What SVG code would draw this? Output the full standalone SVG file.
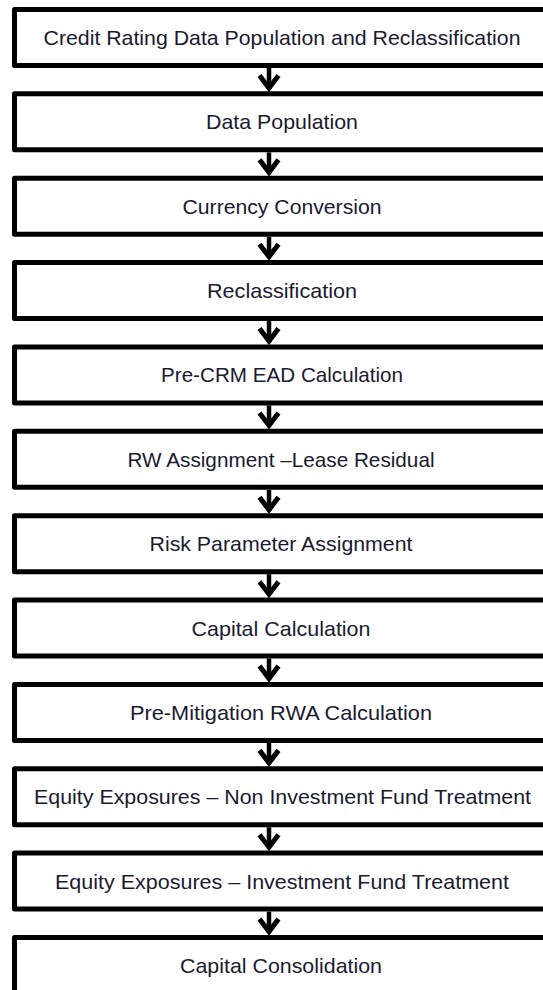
<svg xmlns="http://www.w3.org/2000/svg" width="543" height="990" viewBox="0 0 543 990">
<style>
.box{fill:#fff;stroke:#000;stroke-width:5;stroke-linejoin:round}
.lbl{font-family:"Liberation Sans",Arial,sans-serif;font-size:21px;fill:#1a1a30;text-anchor:middle}
.stem{stroke:#000;stroke-width:4.5;fill:none}
.head{stroke:#000;stroke-width:5;fill:none;stroke-linejoin:miter;stroke-linecap:butt}
</style>
<rect width="543" height="990" fill="#fff"/>
<g id="connectors">
<g transform="translate(0,0)"><line class="stem" x1="269" y1="68" x2="269" y2="89"/><polyline class="head" points="259.5,75.5 269,88 278.5,75.5"/></g>
<g transform="translate(0,84.36)"><line class="stem" x1="269" y1="68" x2="269" y2="89"/><polyline class="head" points="259.5,75.5 269,88 278.5,75.5"/></g>
<g transform="translate(0,168.72)"><line class="stem" x1="269" y1="68" x2="269" y2="89"/><polyline class="head" points="259.5,75.5 269,88 278.5,75.5"/></g>
<g transform="translate(0,253.08)"><line class="stem" x1="269" y1="68" x2="269" y2="89"/><polyline class="head" points="259.5,75.5 269,88 278.5,75.5"/></g>
<g transform="translate(0,337.44)"><line class="stem" x1="269" y1="68" x2="269" y2="89"/><polyline class="head" points="259.5,75.5 269,88 278.5,75.5"/></g>
<g transform="translate(0,421.8)"><line class="stem" x1="269" y1="68" x2="269" y2="89"/><polyline class="head" points="259.5,75.5 269,88 278.5,75.5"/></g>
<g transform="translate(0,506.16)"><line class="stem" x1="269" y1="68" x2="269" y2="89"/><polyline class="head" points="259.5,75.5 269,88 278.5,75.5"/></g>
<g transform="translate(0,590.52)"><line class="stem" x1="269" y1="68" x2="269" y2="89"/><polyline class="head" points="259.5,75.5 269,88 278.5,75.5"/></g>
<g transform="translate(0,674.88)"><line class="stem" x1="269" y1="68" x2="269" y2="89"/><polyline class="head" points="259.5,75.5 269,88 278.5,75.5"/></g>
<g transform="translate(0,759.24)"><line class="stem" x1="269" y1="68" x2="269" y2="89"/><polyline class="head" points="259.5,75.5 269,88 278.5,75.5"/></g>
<g transform="translate(0,843.6)"><line class="stem" x1="269" y1="68" x2="269" y2="89"/><polyline class="head" points="259.5,75.5 269,88 278.5,75.5"/></g>
</g>
<g id="n1"><rect class="box" x="14.5" y="9.5" width="536" height="56"/><text class="lbl" x="282" y="45" textLength="477" lengthAdjust="spacingAndGlyphs">Credit Rating Data Population and Reclassification</text></g>
<g id="n2"><rect class="box" x="14.5" y="93.86" width="536" height="56"/><text class="lbl" x="282" y="129.36" textLength="152" lengthAdjust="spacingAndGlyphs">Data Population</text></g>
<g id="n3"><rect class="box" x="14.5" y="178.22" width="536" height="56"/><text class="lbl" x="282" y="213.72" textLength="199" lengthAdjust="spacingAndGlyphs">Currency Conversion</text></g>
<g id="n4"><rect class="box" x="14.5" y="262.58" width="536" height="56"/><text class="lbl" x="282" y="298.08" textLength="150" lengthAdjust="spacingAndGlyphs">Reclassification</text></g>
<g id="n5"><rect class="box" x="14.5" y="346.94" width="536" height="56"/><text class="lbl" x="282" y="382.44" textLength="242" lengthAdjust="spacingAndGlyphs">Pre-CRM EAD Calculation</text></g>
<g id="n6"><rect class="box" x="14.5" y="431.3" width="536" height="56"/><text class="lbl" x="281" y="466.8" textLength="307" lengthAdjust="spacingAndGlyphs">RW Assignment –Lease Residual</text></g>
<g id="n7"><rect class="box" x="14.5" y="515.66" width="536" height="56"/><text class="lbl" x="281" y="551.16" textLength="263" lengthAdjust="spacingAndGlyphs">Risk Parameter Assignment</text></g>
<g id="n8"><rect class="box" x="14.5" y="600.02" width="536" height="56"/><text class="lbl" x="281" y="635.52" textLength="179" lengthAdjust="spacingAndGlyphs">Capital Calculation</text></g>
<g id="n9"><rect class="box" x="14.5" y="684.38" width="536" height="56"/><text class="lbl" x="281" y="719.88" textLength="302" lengthAdjust="spacingAndGlyphs">Pre-Mitigation RWA Calculation</text></g>
<g id="n10"><rect class="box" x="14.5" y="768.74" width="536" height="56"/><text class="lbl" x="282.5" y="804.24" textLength="497" lengthAdjust="spacingAndGlyphs">Equity Exposures – Non Investment Fund Treatment</text></g>
<g id="n11"><rect class="box" x="14.5" y="853.1" width="536" height="56"/><text class="lbl" x="282" y="888.6" textLength="454" lengthAdjust="spacingAndGlyphs">Equity Exposures – Investment Fund Treatment</text></g>
<g id="n12"><rect class="box" x="14.5" y="937.46" width="536" height="56"/><text class="lbl" x="281" y="972.96" textLength="202" lengthAdjust="spacingAndGlyphs">Capital Consolidation</text></g>
</svg>
